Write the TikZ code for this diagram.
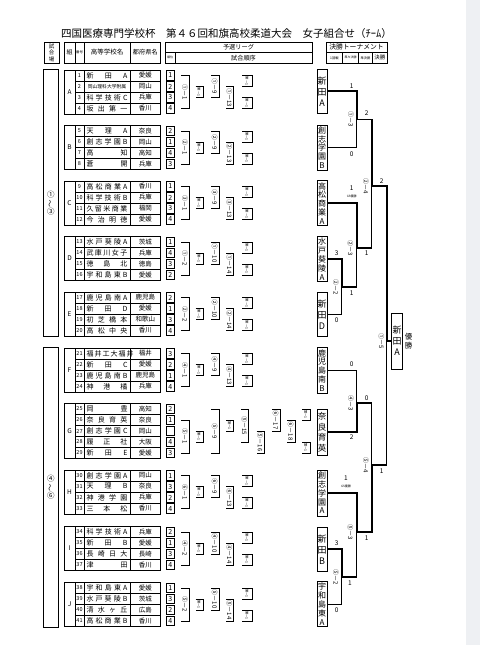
\documentclass[tikz,border=0pt]{standalone}
\usepackage{fontspec}
\usepackage{graphicx}
\setmainfont{Noto Sans CJK JP}
\definecolor{pagegray}{HTML}{EEF0F3}
\newcommand\fsz[2]{\fontsize{#1}{#2}\selectfont}
\newcommand\spr[1]{\makebox[41pt][s]{#1}}
\newcounter{lc}
\tikzset{
 outer/.style={line width=0.9pt},
 inner/.style={line width=0.45pt},
 numt/.style={font=\fsz{5.5}{6}, inner sep=0},
 namet/.style={font=\fsz{7}{8}, inner sep=0},
 preft/.style={font=\fsz{6.5}{7}, inner sep=0},
 grpt/.style={font=\fsz{6.5}{7}, inner sep=0},
 rankb/.style={draw, line width=0.9pt, minimum width=8.4pt, minimum height=9.6pt, inner sep=0, font=\fsz{7}{8}},
 brk/.style={line width=0.55pt},
 lbl/.style={font=\fsz{6}{6}, inner sep=0, rotate=-90},
 tlbl/.style={font=\fsz{3.4}{4}, inner sep=0, rotate=-90},
 thinl/.style={line width=0.6pt},
 thickl/.style={line width=1.8pt},
 tbox/.style={draw, line width=0.8pt, minimum width=10pt, inner sep=0, align=center},
 score/.style={font=\fsz{6.5}{7}, inner sep=0},
 gstxt/.style={font=\fsz{3}{3}, inner sep=0},
 htxt/.style={inner sep=0, align=center},
}
\newcommand\LgBr[5]{%
 \draw[brk] (#1,#3) -| (#2,#4) -- (#1,#4);
 \stepcounter{lc}%
 \node[lbl] (lg\thelc) at ({(#1+#2)/2-0.4},{(#3+#4)/2}) {#5};}
\newcommand\SmBr[4]{%
 \draw[brk] (#1,#3) -| (#2,#4) -- (#1,#4);
 \stepcounter{lc}%
 \node[tlbl] (lg\thelc) at ({(#1+#2)/2-0.4},{(#3+#4)/2}) {第－1};}
\newcommand\FourLg[4]{%
 \LgBr{181}{189.5}{#1+5.5}{#1+38.5}{#2}
 \SmBr{195.5}{203}{#1+16.5}{#1+27.5}
 \LgBr{211}{219}{#1+5.5}{#1+27.5}{#3}
 \LgBr{226}{233.5}{#1+16.5}{#1+38.5}{#4}
 \SmBr{242}{252.5}{#1+5.5}{#1+16.5}
 \SmBr{242}{252.5}{#1+27.5}{#1+38.5}}
\newcommand\TeamRow[5]{%
 \draw[inner] (75,#1) -- (160.7,#1);
 \node[numt] (n#2) at (79.5,#1+5.5) {#2};
 \node[namet] (s#2) at (107,#1+5.5) {#3};
 \node[preft] (p#2) at (145.3,#1+5.5) {#4};
 \node[rankb] (r#2) at (170.2,#1+5.5) {#5};}
\newcommand\GrpBox[3]{%
 \draw[inner] (75,#1) -- (75,#2) (84,#1) -- (84,#2) (130,#1) -- (130,#2);
 \draw[outer] (64,#1) rectangle (160.7,#2);
 \node[grpt] (g#3) at (69.5,{(#1+#2)/2}) {#3};}
\begin{document}
\begin{tikzpicture}[x=1pt,y=-1pt]
\useasboundingbox (0,0) rectangle (480,645);
\fill[white] (0,0) rectangle (480,645);
\fill[pagegray] (466,0) rectangle (480,645);

% title
\node[anchor=west, font=\fsz{10.5}{12}, inner sep=0] (title) at (61,34) {四国医療専門学校杯　第４６回和旗高校柔道大会　女子組合せ（ﾁｰﾑ）};

% header
\draw[outer] (44,42) rectangle (59,63);
\node[htxt, font=\fsz{5.5}{6.6}] (h1) at (51.5,52.7) {試\\合\\場};
\draw[inner] (75,42)--(75,63) (84,42)--(84,63) (130,42)--(130,63);
\draw[outer] (64,42) rectangle (160.7,63);
\node[htxt, font=\fsz{6}{7}] (h2) at (69.5,52.5) {組};
\node[htxt, font=\fsz{3.4}{4}] (h3) at (79.5,52.5) {番号};
\node[htxt, font=\fsz{6.5}{7}] (h4) at (107,52.5) {高等学校名};
\node[htxt, font=\fsz{6.2}{7}] (h5) at (145.3,52.5) {都府県名};
\draw[inner] (165,52.5)--(312,52.5) (175,52.5)--(175,63);
\draw[outer] (165,42) rectangle (312,63);
\node[htxt, font=\fsz{6.2}{7}] (h6) at (238.5,47.4) {予選リーグ};
\node[htxt, font=\fsz{3}{4}] (h7) at (170,57.8) {順位};
\node[htxt, font=\fsz{6.2}{7}] (h8) at (243.5,57.8) {試合順序};
\draw[inner] (326,52.5)--(387,52.5) (342.7,52.5)--(342.7,63) (358.3,52.5)--(358.3,63) (372.7,52.5)--(372.7,63);
\draw[outer] (326,42) rectangle (387,63);
\node[htxt, font=\fsz{6.8}{7}] (h9) at (356.5,47.4) {決勝トーナメント};
\node[htxt, font=\fsz{3.3}{4}] (h10) at (334.4,57.8) {1回戦};
\node[htxt, font=\fsz{3}{4}] (h11) at (350.5,57.8) {準々決勝};
\node[htxt, font=\fsz{3.2}{4}] (h12) at (365.5,57.8) {準決勝};
\node[htxt, font=\fsz{5.5}{6}] (h13) at (379.8,57.8) {決勝};

% court columns
\draw[outer] (43.3,69) rectangle (58.3,336.5);
\node[htxt, font=\fsz{7.5}{8.3}] (c1) at (50.8,203) {①\\\rotatebox[origin=c]{90}{～}\\③};
\draw[outer] (43.3,347) rectangle (58.3,627);
\node[htxt, font=\fsz{7.5}{8.3}] (c2) at (50.8,487) {④\\\rotatebox[origin=c]{90}{～}\\⑥};

% group A
\TeamRow{70}{1}{\spr{新 田 A}}{愛媛}{1}
\TeamRow{81}{2}{\makebox[41pt]{\fsz{4.8}{5}岡山理科大学附属}}{岡山}{2}
\TeamRow{92}{3}{\spr{科 学 技 術 C}}{兵庫}{3}
\TeamRow{103}{4}{\spr{坂 出 第 一}}{香川}{4}
\GrpBox{70}{114}{A}
\FourLg{70}{①－1}{①－9}{①－13}
% group B
\TeamRow{125.5}{5}{\spr{天 理 A}}{奈良}{2}
\TeamRow{136.5}{6}{\spr{創 志 学 園 B}}{岡山}{1}
\TeamRow{147.5}{7}{\spr{高 知}}{高知}{4}
\TeamRow{158.5}{8}{\spr{蒼 開}}{兵庫}{3}
\GrpBox{125.5}{169.5}{B}
\FourLg{125.5}{②－1}{②－9}{②－13}
% group C
\TeamRow{181}{9}{\spr{高 松 商 業 A}}{香川}{1}
\TeamRow{192}{10}{\spr{科 学 技 術 B}}{兵庫}{2}
\TeamRow{203}{11}{\spr{久 留 米 商 業}}{福岡}{3}
\TeamRow{214}{12}{\spr{今 治 明 徳}}{愛媛}{4}
\GrpBox{181}{225}{C}
\FourLg{181}{③－1}{③－9}{③－13}
% group D
\TeamRow{236.5}{13}{\spr{水 戸 葵 陵 A}}{茨城}{1}
\TeamRow{247.5}{14}{\spr{武 庫 川 女 子}}{兵庫}{4}
\TeamRow{258.5}{15}{\spr{徳 島 北}}{徳島}{3}
\TeamRow{269.5}{16}{\spr{宇 和 島 東 B}}{愛媛}{2}
\GrpBox{236.5}{280.5}{D}
\FourLg{236.5}{①－2}{①－10}{①－14}
% group E
\TeamRow{292}{17}{\spr{鹿 児 島 南 A}}{鹿児島}{2}
\TeamRow{303}{18}{\spr{新 田 D}}{愛媛}{1}
\TeamRow{314}{19}{\spr{初 芝 橋 本}}{和歌山}{3}
\TeamRow{325}{20}{\spr{高 松 中 央}}{香川}{4}
\GrpBox{292}{336}{E}
\FourLg{292}{②－2}{②－10}{②－14}
% group F
\TeamRow{348}{21}{\spr{福 井 工 大 福 井}}{福井}{3}
\TeamRow{359}{22}{\spr{新 田 C}}{愛媛}{2}
\TeamRow{370}{23}{\spr{鹿 児 島 南 B}}{鹿児島}{1}
\TeamRow{381}{24}{\spr{神 港 橘}}{兵庫}{4}
\GrpBox{348}{392}{F}
\FourLg{348}{④－1}{④－9}{④－13}
% group G
\TeamRow{403.5}{25}{\spr{岡 豊}}{高知}{2}
\TeamRow{414.5}{26}{\spr{奈 良 育 英}}{奈良}{1}
\TeamRow{425.5}{27}{\spr{創 志 学 園 C}}{岡山}{}
\TeamRow{436.5}{28}{\spr{履 正 社}}{大阪}{4}
\TeamRow{447.5}{29}{\spr{新 田 E}}{愛媛}{3}
\GrpBox{403.5}{458.5}{G}
\LgBr{181}{189.5}{420}{453}{⑤－1}
\SmBr{195.5}{203}{431}{442}
\LgBr{211}{219}{409}{453}{⑤－9}
\SmBr{226}{233.5}{420}{431}
\LgBr{241}{248.5}{409}{442}{⑤－15}
\LgBr{256.5}{264.5}{431}{453}{⑤－16}
\LgBr{272}{280}{409}{431}{⑥－17}
\LgBr{287}{295}{420}{442}{⑥－18}
\SmBr{302}{310}{409}{420}
\SmBr{302}{310}{442}{453}
% group H
\TeamRow{470}{30}{\spr{創 志 学 園 A}}{岡山}{1}
\TeamRow{481}{31}{\spr{天 理 B}}{奈良}{3}
\TeamRow{492}{32}{\spr{神 港 学 園}}{兵庫}{2}
\TeamRow{503}{33}{\spr{三 本 松}}{香川}{4}
\GrpBox{470}{514}{H}
\FourLg{470}{⑥－1}{⑥－9}{⑥－13}
% group I
\TeamRow{526.5}{34}{\spr{科 学 技 術 A}}{兵庫}{2}
\TeamRow{537.5}{35}{\spr{新 田 B}}{愛媛}{1}
\TeamRow{548.5}{36}{\spr{長 崎 日 大}}{長崎}{3}
\TeamRow{559.5}{37}{\spr{津 田}}{香川}{4}
\GrpBox{526.5}{570.5}{I}
\FourLg{526.5}{④－2}{④－10}{④－14}
% group J
\TeamRow{582.5}{38}{\spr{宇 和 島 東 A}}{愛媛}{1}
\TeamRow{593.5}{39}{\spr{水 戸 葵 陵 B}}{茨城}{3}
\TeamRow{604.5}{40}{\spr{清 水 ヶ 丘}}{広島}{2}
\TeamRow{615.5}{41}{\spr{高 松 商 業 B}}{香川}{4}
\GrpBox{582.5}{626.5}{J}
\FourLg{582.5}{⑤－2}{⑤－10}{⑤－14}

% tournament team boxes
\node[tbox, minimum height=44pt, font=\fsz{9}{11}] (tA) at (322,91.3) {新\\田\\A};
\node[tbox, minimum height=45pt, font=\fsz{8}{8.8}] (tB) at (322,147.5) {創\\志\\学\\園\\B};
\node[tbox, minimum height=45pt, font=\fsz{8}{8.8}] (tC) at (322,203.3) {高\\松\\商\\業\\A};
\node[tbox, minimum height=45pt, font=\fsz{8}{8.8}] (tD) at (322,259.2) {水\\戸\\葵\\陵\\A};
\node[tbox, minimum height=44pt, font=\fsz{9}{11}] (tE) at (322,314.7) {新\\田\\D};
\node[tbox, minimum height=46pt, font=\fsz{8}{8.8}] (tF) at (322,370.3) {鹿\\児\\島\\南\\B};
\node[tbox, minimum height=45.7pt, font=\fsz{8.5}{10.5}] (tG) at (322,432.2) {奈\\良\\育\\英};
\node[tbox, minimum height=46pt, font=\fsz{8}{8.8}] (tH) at (322,493) {創\\志\\学\\園\\A};
\node[tbox, minimum height=44pt, font=\fsz{9}{11}] (tI) at (322,549.3) {新\\田\\B};
\node[tbox, minimum height=45pt, font=\fsz{8}{8.8}] (tJ) at (322,604.2) {宇\\和\\島\\東\\A};
\node[tbox, minimum width=10.6pt, minimum height=56pt, font=\fsz{9}{11}] (champ) at (397,341) {新\\田\\A};
\node[htxt, font=\fsz{7.5}{9}] (win) at (408.5,341.5) {優\\勝};

% junction coordinates
\coordinate (jA) at (356.7,91.3);
\coordinate (jB) at (356.7,147.5);
\coordinate (j13) at (356.7,119.4);
\coordinate (j13r) at (371.7,119.4);
\coordinate (jC) at (356.7,203.3);
\coordinate (jD) at (341.7,259.2);
\coordinate (jE) at (341.7,314.7);
\coordinate (j22) at (341.7,287.3);
\coordinate (j22r) at (356.7,287.3);
\coordinate (j23) at (356.7,247.7);
\coordinate (j23r) at (371.7,247.7);
\coordinate (j24) at (371.7,186);
\coordinate (j24r) at (386.7,186);
\coordinate (jfin) at (386.7,341);
\coordinate (jF) at (356.7,370.3);
\coordinate (jG) at (356.7,432.2);
\coordinate (j43) at (356.7,402.7);
\coordinate (j43r) at (371.7,402.7);
\coordinate (jH) at (356.7,493);
\coordinate (jI) at (341.7,549.3);
\coordinate (jJ) at (341.7,604.2);
\coordinate (j52) at (341.7,576.7);
\coordinate (j52r) at (356.7,576.7);
\coordinate (j53) at (356.7,531.7);
\coordinate (j53r) at (371.7,531.7);
\coordinate (j54) at (371.7,465);
\coordinate (j54r) at (386.7,465);

% thin (losing) lines
\draw[thinl] (tB.east) -- (jB) -- (j13);
\draw[thinl] (j23) -- (j22r);
\draw[thinl] (j24) -- (j23r);
\draw[thinl] (tE.east) -- (jE) -- (j22);
\draw[thinl] (jfin) -- (j54r);
\draw[thinl] (tF.east) -- (jF) -- (j43);
\draw[thinl] (j43r) -- (j54);
\draw[thinl] (j53) -- (j52r);
\draw[thinl] (tJ.east) -- (jJ) -- (j52);

% thick (winning) lines
\draw[thickl] (tA.east) -- (jA) -- (j13) -- (j13r) -- (j24) -- (j24r) -- (jfin) -- (champ.west);
\draw[thickl] (tC.east) -- (jC) -- (j23) -- (j23r);
\draw[thickl] (tD.east) -- (jD) -- (j22) -- (j22r);
\draw[thickl] (tG.east) -- (jG) -- (j43) -- (j43r);
\draw[thickl] (tH.east) -- (jH) -- (j53) -- (j53r) -- (j54) -- (j54r);
\draw[thickl] (tI.east) -- (jI) -- (j52) -- (j52r);

% match labels
\node[lbl] (m13) at (350.8,119.4) {①－3};
\node[lbl] (m24) at (366,186) {②－4};
\node[lbl] (m23) at (350.5,247.7) {②－3};
\node[lbl] (m22) at (336,287.3) {②－2};
\node[lbl] (m15) at (381.3,341) {①－5};
\node[lbl] (m43) at (350.8,402.7) {④－3};
\node[lbl] (m54) at (366,465) {⑤－4};
\node[lbl] (m53) at (350.5,531.7) {⑤－3};
\node[lbl] (m52) at (336,576.7) {⑤－2};

% scores
\node[score] (s1) at (351.7,86) {1};
\node[score] (s2) at (351.7,154) {0};
\node[score] (s3) at (366.7,112.7) {2};
\node[score] (s4) at (351.7,188.3) {1};
\node[gstxt] (gs1) at (351.7,196) {GS優勝};
\node[score] (s5) at (366.7,253) {1};
\node[score] (s6) at (336.7,253.3) {3};
\node[score] (s7) at (351.7,292.7) {1};
\node[score] (s8) at (336.7,320) {0};
\node[score] (s9) at (381.7,181.5) {2};
\node[score] (s10) at (351.7,364.3) {0};
\node[score] (s11) at (351.7,437.5) {2};
\node[score] (s12) at (366.7,398) {0};
\node[score] (s13) at (346,478.3) {1};
\node[gstxt] (gs2) at (346,486) {GS優勝};
\node[score] (s14) at (336.7,543.3) {3};
\node[score] (s15) at (336.7,610) {0};
\node[score] (s16) at (350,582.7) {1};
\node[score] (s17) at (366.7,538) {1};
\node[score] (s18) at (381.7,471.5) {1};
\end{tikzpicture}
\end{document}
